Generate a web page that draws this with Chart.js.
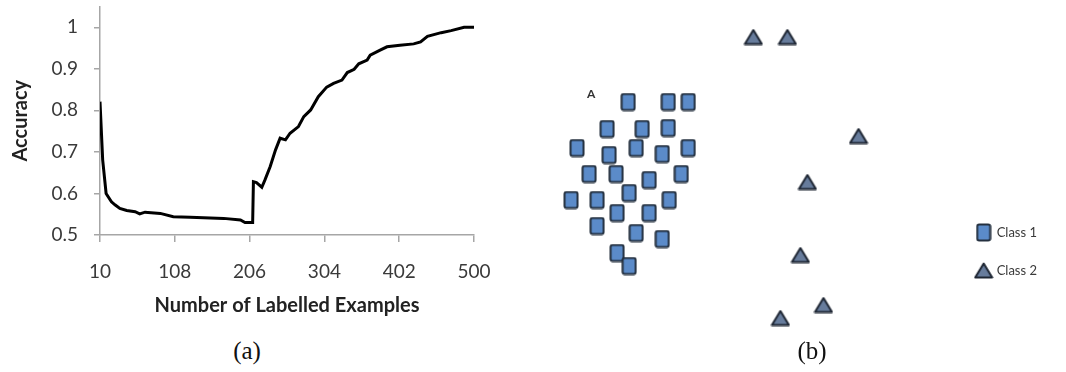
<!DOCTYPE html>
<html lang="en">
<head>
  <meta charset="UTF-8">
  <title>Accuracy vs labelled examples / class scatter</title>
  <script src="https://cdn.jsdelivr.net/npm/chart.js"></script>
  <style>
    body {
      margin: 0;
      width: 1066px;
      height: 372px;
      background: #ffffff;
      position: relative;
      overflow: hidden;
    }
    #lineChart { position: absolute; left: 0; top: 0; }
    #scatterChart { position: absolute; left: 540px; top: 0; }
    .caption {
      position: absolute;
      top: 337px;
      font-family: "Liberation Serif", serif;
      font-size: 25px;
      color: #111;
      transform: translateX(-50%);
    }
  </style>
</head>
<body>
  <canvas id="lineChart" width="500" height="330"></canvas>
  <canvas id="scatterChart" width="526" height="340"></canvas>
  <div class="caption" style="left:247px">(a)</div>
  <div class="caption" style="left:812px">(b)</div>

  <script>
    // (a) accuracy curve
    const examples = [10, 13.5, 18, 25, 30, 36, 45, 56, 62, 69, 89, 106, 128, 172, 194, 200,
      210, 211, 215, 222, 226, 233, 240, 246, 253, 259, 270, 277, 286, 296, 307, 316, 327,
      334, 343, 349, 360, 364, 377, 386, 403, 421, 430, 439, 457, 470, 487, 500];
    const accuracy = [0.821, 0.681, 0.600, 0.580, 0.572, 0.564, 0.559, 0.556, 0.551, 0.555,
      0.552, 0.544, 0.543, 0.540, 0.536, 0.530, 0.530, 0.628, 0.626, 0.615, 0.632, 0.665,
      0.705, 0.733, 0.729, 0.745, 0.761, 0.785, 0.801, 0.833, 0.856, 0.865, 0.873, 0.891,
      0.899, 0.912, 0.921, 0.933, 0.945, 0.953, 0.957, 0.960, 0.965, 0.978, 0.987, 0.992,
      1.0, 1.0];
    const xTicks = [10, 108, 206, 304, 402, 500];
    const yTicks = [0.5, 0.6, 0.7, 0.8, 0.9, 1];

    // (b) two classes in feature space
    const class1X = [8.8, 12.8, 14.8, 6.7, 10.2, 12.8, 3.7, 6.9, 9.6, 12.2, 14.8, 4.9, 7.6,
      10.9, 14.1, 3.1, 5.7, 8.9, 12.9, 7.7, 10.9, 5.7, 9.6, 12.2, 7.7, 8.9];
    const class1Y = [23.8, 23.8, 23.8, 21.1, 21.1, 21.2, 19.2, 18.5, 19.2, 18.6, 19.2, 16.6,
      16.6, 16.0, 16.6, 14.0, 14.0, 14.7, 14.0, 12.7, 12.7, 11.4, 10.7, 10.1, 8.7, 7.4];
    const class2X = [21.3, 24.7, 31.8, 26.7, 26.0, 28.3, 24.0];
    const class2Y = [30.3, 30.3, 20.4, 15.8, 8.5, 3.5, 2.2];
    const pointA = { x: 5.1, y: 24.6, text: 'A' };

    const axisGray = '#a6a6a6';
    const textGray = '#3a3a3a';

    // drop the extra room chart.js keeps for half-labels so the plot area is exact
    function noPad(s) {
      s.paddingTop = 0; s.paddingBottom = 0; s.paddingLeft = 0; s.paddingRight = 0;
    }

    new Chart(document.getElementById('lineChart'), {
      type: 'line',
      data: {
        datasets: [{
          data: examples.map((x, i) => ({ x: x, y: accuracy[i] })),
          borderColor: '#000',
          borderWidth: 3,
          pointRadius: 0,
          tension: 0
        }]
      },
      options: {
        responsive: false,
        animation: false,
        layout: { autoPadding: false, padding: { top: 6.5, right: 26, left: 0, bottom: 0 } },
        plugins: { legend: { display: false }, tooltip: { enabled: false } },
        scales: {
          x: {
            type: 'linear',
            min: 10,
            max: 500,
            afterBuildTicks: s => { s.ticks = xTicks.map(v => ({ value: v })); },
            afterFit: s => { s.height = 95; noPad(s); },
            border: { color: axisGray, width: 1.5 },
            grid: { drawOnChartArea: false, color: axisGray, tickLength: 7, lineWidth: 1.5 },
            ticks: { padding: 18, color: textGray, font: { family: 'Lato', size: 19 } },
            title: {
              display: true,
              text: 'Number of Labelled Examples',
              color: '#222',
              padding: { top: 0, bottom: 12.5 },
              font: { family: 'Lato', size: 20, weight: 'bold' }
            }
          },
          y: {
            min: 0.5,
            max: 1.05,
            afterBuildTicks: s => { s.ticks = yTicks.map(v => ({ value: v })); },
            afterFit: s => { s.width = 100; noPad(s); },
            border: { color: axisGray, width: 1.5 },
            grid: { drawOnChartArea: false, color: axisGray, tickLength: 6, lineWidth: 1.5 },
            ticks: {
              padding: 16,
              color: textGray,
              font: { family: 'Lato', size: 19 },
              callback: v => String(Math.round(v * 10) / 10)
            },
            title: {
              display: true,
              text: 'Accuracy',
              color: '#222',
              padding: { top: 9, bottom: 0 },
              font: { family: 'Lato', size: 20, weight: 'bold' }
            }
          }
        }
      }
    });

    // marker images for the two classes
    function squareMarker() {
      const c = document.createElement('canvas');
      c.width = 16; c.height = 19;
      const g = c.getContext('2d');
      g.fillStyle = '#5b8bc9';
      g.strokeStyle = '#24303f';
      g.lineWidth = 2;
      g.beginPath();
      g.roundRect(1.5, 1.5, 13, 16, 2);
      g.fill();
      g.stroke();
      return c;
    }
    function triangleMarker() {
      const c = document.createElement('canvas');
      c.width = 20; c.height = 17;
      const g = c.getContext('2d');
      g.fillStyle = '#677c9c';
      g.strokeStyle = '#1e2633';
      g.lineWidth = 2;
      g.lineJoin = 'round';
      g.beginPath();
      g.moveTo(10, 1.5);
      g.lineTo(18.5, 15.5);
      g.lineTo(1.5, 15.5);
      g.closePath();
      g.fill();
      g.stroke();
      return c;
    }

    const labelPlugin = {
      id: 'labelA',
      afterDatasetsDraw(chart) {
        const { ctx, scales } = chart;
        ctx.save();
        ctx.font = 'bold 12px Lato';
        ctx.fillStyle = '#333';
        ctx.textAlign = 'center';
        ctx.textBaseline = 'middle';
        ctx.fillText(pointA.text, scales.x.getPixelForValue(pointA.x), scales.y.getPixelForValue(pointA.y));
        ctx.restore();
      }
    };

    new Chart(document.getElementById('scatterChart'), {
      type: 'scatter',
      data: {
        datasets: [{
          label: 'Class 1',
          data: class1X.map((x, i) => ({ x: x, y: class1Y[i] })),
          pointStyle: squareMarker(),
          clip: false
        }, {
          label: 'Class 2',
          data: class2X.map((x, i) => ({ x: x, y: class2Y[i] })),
          pointStyle: triangleMarker(),
          clip: false
        }]
      },
      options: {
        responsive: false,
        animation: false,
        layout: { autoPadding: false, padding: { left: 0, top: 0, right: 19, bottom: 0 } },
        scales: {
          x: { display: false, min: 0, max: 41.15 },
          y: { display: false, min: 0, max: 34 }
        },
        plugins: {
          tooltip: { enabled: false },
          legend: {
            position: 'right',
            align: 'start',
            // empty title only pushes the two entries down beside the lower points
            title: { display: true, text: '', padding: { top: 189, bottom: 0 }, font: { size: 10 } },
            labels: {
              usePointStyle: true,
              padding: 25,
              color: textGray,
              font: { family: 'Lato', size: 13 }
            }
          }
        }
      },
      plugins: [labelPlugin]
    });
  </script>
</body>
</html>
